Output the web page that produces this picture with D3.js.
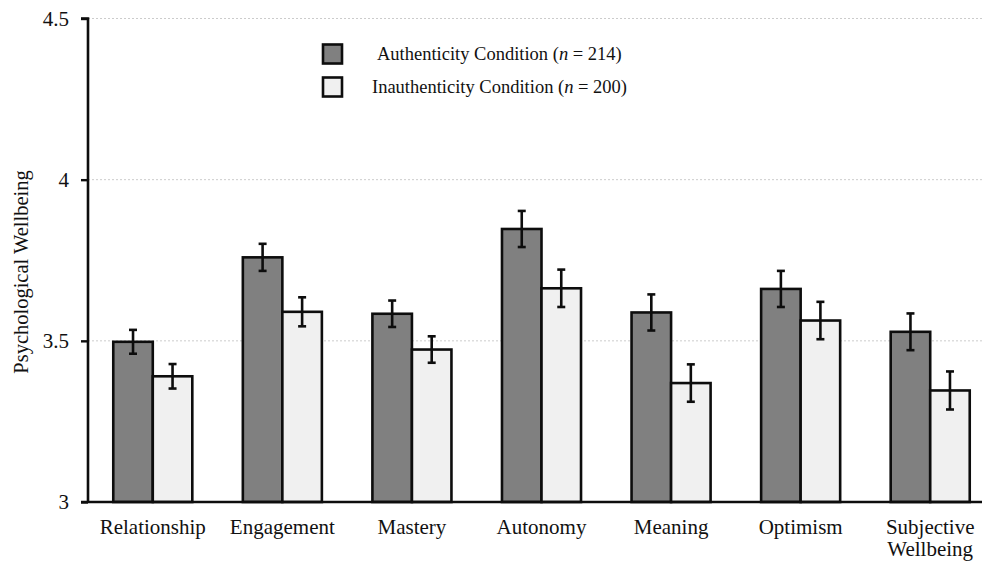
<!DOCTYPE html>
<html>
<head>
<meta charset="utf-8">
<script src="https://cdn.jsdelivr.net/npm/d3@7"></script>
<style>
	body { margin: 0; background: #fff; }
	svg text { font-family: "Liberation Serif", "Times New Roman", serif; fill: #111; }
</style>
</head>
<body>
<div id="chartDiv"></div>
<script>

// Data:
var categories   = ["Relationship", "Engagement", "Mastery", "Autonomy", "Meaning", "Optimism", "Subjective\nWellbeing"];
var authMeans    = [3.497, 3.759, 3.584, 3.847, 3.588, 3.661, 3.528];
var authErrors   = [0.037, 0.042, 0.041, 0.056, 0.056, 0.056, 0.057];
var inauthMeans  = [3.390, 3.590, 3.473, 3.663, 3.369, 3.563, 3.346];
var inauthErrors = [0.038, 0.045, 0.041, 0.058, 0.058, 0.058, 0.059];
var seriesNames  = ["Authenticity Condition", "Inauthenticity Condition"];
var seriesN      = [214, 200];
var yTicks       = [3, 3.5, 4, 4.5];

var WIDTH  = 982;
var HEIGHT = 562;

// Plot area:
var X0     = 88;
var X1     = 995;  // band range runs a bit past the picture edge
var Y_TOP  = 18.5;
var Y_BASE = 502;

var DARK  = "#808080";
var LIGHT = "#f0f0f0";
var INK   = "#0d0d0d";
var SERIF = "'Liberation Serif', 'Times New Roman', serif";

var svg = d3.select("#chartDiv").append("svg")
	.attr("width", WIDTH)
	.attr("height", HEIGHT);

var y = d3.scaleLinear()
	.domain([3, 4.5])
	.range([Y_BASE, Y_TOP]);

var x = d3.scaleBand()
	.domain(categories)
	.range([X0, X1])
	.paddingInner(0.39)
	.paddingOuter(0.195);

var xSub = d3.scaleBand()
	.domain([0, 1])
	.range([0, x.bandwidth()]);

// Dotted grid lines
svg.append("g")
	.selectAll("line")
	.data(yTicks.slice(1))
	.join("line")
	  .attr("x1", X0)
	  .attr("x2", WIDTH)
	  .attr("y1", d => y(d))
	  .attr("y2", d => y(d))
	  .attr("stroke", "#cccccc")
	  .attr("stroke-width", 1)
	  .attr("stroke-dasharray", "2,2");

// Bars
var rows = categories.map(function(c, i) {
	return [
		{ cat: c, s: 0, v: authMeans[i],   e: authErrors[i] },
		{ cat: c, s: 1, v: inauthMeans[i], e: inauthErrors[i] }
	];
});

var groups = svg.append("g")
	.selectAll("g")
	.data(rows)
	.join("g")
	  .attr("transform", d => "translate(" + x(d[0].cat) + ",0)");

groups.selectAll("rect")
	.data(d => d)
	.join("rect")
	  .attr("x", d => xSub(d.s))
	  .attr("y", d => y(d.v))
	  .attr("width", xSub.bandwidth())
	  .attr("height", d => y(3) - y(d.v))
	  .attr("fill", d => d.s === 0 ? DARK : LIGHT)
	  .attr("stroke", INK)
	  .attr("stroke-width", 2.6);

// Error bars
var err = groups.selectAll("g.err")
	.data(d => d)
	.join("g")
	  .attr("class", "err")
	  .attr("stroke", INK)
	  .attr("stroke-width", 2.6);

err.append("line")
	.attr("x1", d => xSub(d.s) + xSub.bandwidth() / 2)
	.attr("x2", d => xSub(d.s) + xSub.bandwidth() / 2)
	.attr("y1", d => y(d.v + d.e))
	.attr("y2", d => y(d.v - d.e));

err.selectAll("line.cap")
	.data(d => [d.v + d.e, d.v - d.e].map(v => ({ s: d.s, v: v })))
	.join("line")
	  .attr("class", "cap")
	  .attr("x1", d => xSub(d.s) + xSub.bandwidth() / 2 - 4)
	  .attr("x2", d => xSub(d.s) + xSub.bandwidth() / 2 + 4)
	  .attr("y1", d => y(d.v))
	  .attr("y2", d => y(d.v));

// Y axis
var yAxis = svg.append("g")
	.attr("transform", "translate(" + X0 + ",0)")
	.call(d3.axisLeft(y).tickValues(yTicks).tickSize(7).tickPadding(12).tickFormat(d3.format("")))
	.attr("font-family", SERIF)
	.attr("font-size", 21);

yAxis.select(".domain")
	.attr("d", "M-7," + Y_TOP + "H0V" + Y_BASE)
	.attr("stroke", INK)
	.attr("stroke-width", 2.6);
yAxis.selectAll(".tick line").attr("stroke", INK).attr("stroke-width", 2.4);
yAxis.selectAll(".tick text")
	.style("font-family", SERIF)
	.style("font-size", "21px")
	.attr("fill", INK);

// X axis base line
svg.append("line")
	.attr("x1", X0 - 7)
	.attr("x2", WIDTH)
	.attr("y1", Y_BASE)
	.attr("y2", Y_BASE)
	.attr("stroke", INK)
	.attr("stroke-width", 2.6);

// Category labels
svg.append("g")
	.selectAll("text")
	.data(categories)
	.join("text")
	  .attr("x", d => x(d) + x.bandwidth() / 2)
	  .attr("y", 534)
	  .attr("text-anchor", "middle")
	  .style("font-size", "21px")
	  .each(function(d) {
		  var parts = d.split("\n");
		  var t = d3.select(this);
		  parts.forEach(function(p, i) {
			  t.append("tspan")
				.attr("x", x(d) + x.bandwidth() / 2)
				.attr("dy", i === 0 ? 0 : 22)
				.text(p);
		  });
	  });

// Y axis title
svg.append("text")
	.attr("transform", "translate(28,272) rotate(-90)")
	.attr("text-anchor", "middle")
	.style("font-size", "20.5px")
	.text("Psychological Wellbeing");

// Legend
var legend = svg.append("g");
var legendY = [54, 87];
var legendTextX = [377, 372];

seriesNames.forEach(function(name, i) {
	legend.append("rect")
		.attr("x", 323)
		.attr("y", legendY[i] - 9.5)
		.attr("width", 19)
		.attr("height", 19)
		.attr("fill", i === 0 ? DARK : LIGHT)
		.attr("stroke", INK)
		.attr("stroke-width", 2.6);

	var t = legend.append("text")
		.attr("x", legendTextX[i])
		.attr("y", legendY[i] + 6)
		.style("font-size", "18.5px");
	t.append("tspan").text(name + " (");
	t.append("tspan").style("font-style", "italic").text("n");
	t.append("tspan").text(" = " + seriesN[i] + ")");
});

</script>
</body>
</html>
